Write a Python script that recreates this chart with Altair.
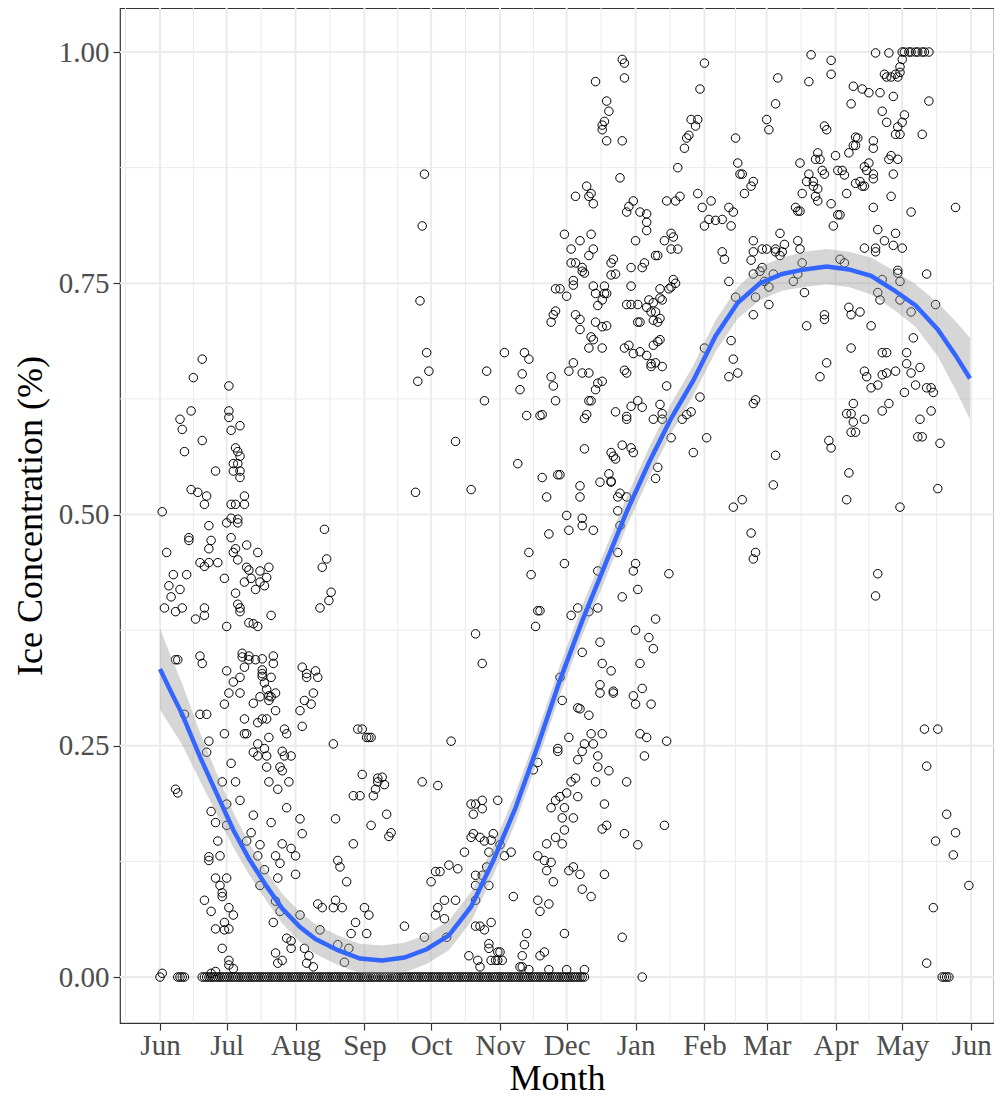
import json
import altair as alt
import pandas as pd

# ---- x axis: days since 1 June (month breaks) ----
MONTH_DAYS = [0, 30, 61, 92, 122, 153, 183, 214, 245, 273, 304, 334, 365]
MONTH_LABELS = ["Jun", "Jul", "Aug", "Sep", "Oct", "Nov", "Dec", "Jan", "Feb", "Mar", "Apr", "May", "Jun"]
MINOR_DAYS = [-15.5, 15, 45.5, 76.5, 107, 137.5, 168, 198.5, 229.5, 259, 288.5, 319, 349.5]
Y_MAJOR = [0.0, 0.25, 0.5, 0.75, 1.0]
Y_MINOR = [0.125, 0.375, 0.625, 0.875]

# ---- observations: [day, ice concentration] ----
SEG_JUN_JUL_HIGH = [
    [19, .668], [15, .648], [31, .639], [14, .612], [9, .603], [10, .592], [31, .612], [31, .605], [36, .596],
    [32, .591], [19, .580], [11, .568], [34, .572], [35, .568], [36, .563], [33, .555], [35, .555], [33, .547],
    [36, .547], [36, .540], [25, .547], [14, .527], [17, .524], [21, .520], [20, .511], [38, .520], [32, .511],
    [34, .511], [38, .511], [1, .503], [32, .496], [35, .495], [30, .491], [35, .491], [22, .488], [74, .484],
    [13, .475], [13, .472], [23, .472], [32, .475], [22, .463], [3, .459], [34, .463], [33, .459], [39, .467],
    [44, .459], [35, .451], [75, .452], [73, .443], [18, .448], [20, .444], [22, .448], [26, .448], [39, .443],
    [40, .440], [45, .439], [49, .443], [6, .435], [12, .435], [29, .431], [41, .431], [48, .432], [38, .427],
    [45, .427], [47, .423], [43, .419], [4, .423], [9, .419], [5, .411], [34, .415], [77, .416], [76, .407],
    [72, .399], [35, .403], [36, .399], [36, .395], [2, .399], [7, .395], [10, .399], [20, .399], [20, .391],
    [16, .387], [50, .391], [30, .379], [40, .383], [42, .382], [44, .379],
]
SEG_JUN_AUG_LOW = [
    [7, .343], [8, .343], [18, .347], [19, .339], [37, .350], [37, .346], [40, .347], [40, .343], [43, .343],
    [46, .344], [51, .347], [51, .339], [30, .331], [38, .335], [36, .324], [33, .319], [46, .332], [46, .328],
    [46, .325], [50, .324], [47, .318], [48, .311], [52, .307], [49, .304], [49, .299], [50, .303], [64, .335],
    [66, .324], [70, .331], [71, .324], [66, .328], [69, .307], [65, .299], [68, .295], [63, .288], [64, .271],
    [31, .307], [36, .307], [29, .295], [42, .296], [45, .303], [52, .288], [11, .284], [18, .284], [21, .284],
    [38, .279], [44, .275], [46, .279], [48, .279], [29, .263], [38, .263], [39, .263], [56, .268], [57, .263],
    [22, .255], [21, .243], [44, .252], [47, .247], [42, .243], [44, .239], [49, .259], [48, .239], [55, .244],
    [56, .239], [59, .239], [78, .252], [32, .231], [48, .227], [54, .227], [55, .223], [7, .203], [8, .199],
    [28, .211], [34, .211], [49, .211], [53, .203], [58, .211], [23, .179], [25, .167], [30, .187], [30, .164],
    [36, .191], [42, .175], [50, .167], [57, .183], [63, .171], [64, .155], [79, .171], [26, .147], [41, .156],
    [39, .147], [45, .143], [22, .130], [22, .126], [27, .131], [44, .131], [52, .131], [55, .144], [59, .139],
    [61, .131], [54, .123], [47, .116], [25, .107], [30, .107], [27, .099], [28, .091], [28, .087], [53, .107],
    [61, .111], [45, .099], [20, .083], [23, .071], [31, .075], [33, .067], [25, .052], [29, .059], [29, .051],
    [31, .052], [52, .082], [54, .071], [51, .059], [63, .067], [72, .051], [71, .079], [73, .075], [78, .075],
    [79, .083], [57, .042], [59, .039], [59, .031], [52, .026], [55, .018], [53, .015], [65, .031], [67, .023],
    [66, .015], [69, .011], [28, .031], [31, .018], [31, .013], [33, .009], [25, .006], [23, .004], [1, .004],
]
SEG_AUG_NOV = [
    [119, .868], [118, .812], [117, .731], [120, .675], [121, .655], [116, .644], [155, .675], [164, .675],
    [166, .668], [147, .655], [163, .652], [162, .635], [146, .623], [165, .607], [171, .607], [133, .579],
    [161, .555], [115, .524], [140, .527], [166, .459], [167, .435], [170, .396], [169, .379], [142, .371],
    [145, .339], [89, .268], [91, .268], [93, .259], [94, .259], [95, .259], [131, .255], [170, .232], [168, .224],
    [91, .219], [98, .215], [100, .216], [98, .211], [101, .208], [97, .203], [96, .196], [87, .196], [90, .196],
    [118, .211], [125, .207], [102, .176], [95, .164], [103, .152], [104, .156], [87, .144], [80, .126], [81, .119],
    [84, .103], [82, .075], [92, .075], [94, .067], [88, .059], [86, .047], [93, .047], [80, .035], [85, .031],
    [83, .016], [110, .055], [119, .043], [129, .043], [137, .135], [122, .103], [124, .114], [126, .114],
    [130, .121], [134, .117], [124, .067], [125, .075], [128, .083], [128, .063], [133, .083], [140, .187],
    [142, .187], [145, .191], [145, .182], [141, .176], [152, .191], [141, .155], [140, .151], [144, .151],
    [146, .147], [150, .155], [149, .148], [153, .143], [155, .131], [158, .135], [148, .135], [147, .119],
    [145, .110], [142, .110], [142, .099], [148, .099], [142, .083], [159, .087], [142, .055], [144, .055],
    [146, .051], [149, .059], [148, .036], [148, .031], [152, .027], [153, .027], [149, .018], [151, .018],
    [152, .018], [154, .018], [139, .023], [143, .018], [144, .011], [170, .083], [171, .071], [175, .079],
    [165, .047], [164, .035], [163, .023], [173, .027], [171, .023], [162, .011], [163, .011], [166, .008],
    [175, .008], [170, .131],
]
SEG_DEC_JAN_HIGH = [
    [208, .992], [209, .988], [209, .972], [196, .968], [245, .988], [243, .960], [201, .947], [202, .936],
    [200, .925], [199, .921], [199, .916], [201, .904], [208, .904], [239, .927], [242, .927], [241, .920],
    [238, .910], [237, .907], [236, .896], [233, .875], [207, .864], [192, .855], [194, .847], [193, .844],
    [195, .836], [187, .844], [213, .839], [211, .833], [210, .827], [216, .827], [219, .825], [219, .816],
    [219, .807], [228, .839], [232, .839], [234, .844], [242, .847], [244, .832], [248, .839], [247, .819],
    [245, .812], [250, .818], [182, .803], [189, .796], [185, .787], [194, .803], [195, .787], [193, .780],
    [214, .796], [227, .796], [230, .804], [231, .800], [230, .787], [233, .787], [223, .780], [224, .780],
    [185, .772], [187, .772], [190, .767], [190, .763], [191, .761], [203, .772], [204, .776], [203, .759],
    [205, .760], [212, .767], [218, .772], [217, .767], [186, .753], [186, .748], [178, .744], [180, .744],
    [183, .736], [195, .747], [196, .739], [200, .747], [200, .739], [201, .739], [199, .732], [197, .726],
    [212, .747], [225, .744], [229, .744], [231, .754], [232, .750], [230, .746], [210, .727], [212, .727],
    [215, .727], [220, .732], [222, .729], [225, .734], [226, .732], [219, .724], [221, .719], [223, .719],
    [222, .710], [224, .708], [225, .712], [216, .708], [215, .708], [178, .720], [177, .716], [176, .708],
    [187, .716], [189, .711], [189, .700], [196, .708], [199, .703], [201, .704], [194, .692], [195, .689],
    [193, .680], [199, .680], [209, .680], [211, .683], [213, .674], [216, .676], [219, .672], [222, .683],
    [224, .687], [225, .689], [221, .663], [223, .664], [226, .660], [221, .660], [245, .680], [186, .664],
    [184, .655], [190, .653], [193, .653], [176, .649], [209, .656], [210, .653],
]
SEG_DEC_JAN_MID = [
    [177, .639], [178, .623], [172, .608], [197, .642], [199, .644], [196, .635], [193, .623], [194, .623],
    [191, .604], [192, .608], [228, .639], [243, .627], [205, .611], [210, .606], [212, .617], [215, .623],
    [217, .616], [210, .603], [225, .619], [222, .603], [226, .609], [226, .603], [235, .603], [237, .608],
    [239, .611], [230, .583], [246, .583], [240, .567], [191, .571], [203, .567], [204, .563], [205, .560],
    [208, .575], [212, .572], [213, .567], [224, .551], [223, .539], [172, .540], [179, .543], [180, .543],
    [202, .544], [198, .535], [203, .536], [203, .535], [189, .531], [189, .519], [174, .519], [206, .519],
    [207, .523], [210, .519], [206, .504], [207, .488], [183, .499], [190, .496], [190, .488], [184, .483],
    [195, .483], [175, .479], [206, .459], [182, .447], [197, .439], [214, .447], [213, .439], [229, .436],
    [215, .419], [208, .411], [171, .396], [185, .391], [188, .399], [193, .395], [197, .399], [223, .387],
    [214, .375], [220, .367], [222, .355], [198, .362], [190, .351], [199, .339], [203, .331], [216, .339],
    [180, .324], [198, .316], [204, .309], [217, .312],
]
SEG_DEC_JAN_LOW = [
    [198, .307], [204, .307], [213, .304], [214, .295], [221, .295], [181, .299], [188, .291], [189, .290],
    [193, .283], [184, .259], [194, .263], [199, .263], [191, .252], [195, .252], [190, .244], [188, .235],
    [179, .247], [179, .244], [216, .263], [219, .259], [228, .255], [218, .239], [197, .239], [197, .227],
    [202, .223], [196, .211], [210, .211], [187, .215], [185, .211], [183, .199], [188, .195], [180, .195],
    [178, .191], [176, .183], [182, .183], [186, .172], [181, .172], [182, .159], [178, .151], [174, .144],
    [181, .144], [200, .187], [201, .164], [199, .160], [209, .155], [215, .143], [227, .164], [173, .126],
    [176, .124], [174, .115], [177, .103], [186, .119], [184, .115], [189, .111], [200, .111], [190, .095],
    [194, .087], [182, .047], [208, .043], [183, .008], [191, .008],
]
SEG_FEB_APR = [
    [293, .997], [302, .991], [302, .976], [292, .968], [278, .972], [277, .944], [273, .927], [274, .916],
    [312, .963], [311, .944], [259, .907], [299, .920], [300, .916], [260, .880], [262, .868], [261, .868],
    [267, .860], [266, .855], [263, .847], [288, .880], [292, .868], [291, .860], [294, .860], [294, .855],
    [296, .852], [295, .844], [296, .839], [289, .847], [296, .891], [295, .884], [297, .884], [298, .872],
    [299, .868], [304, .888], [305, .872], [307, .872], [308, .867], [309, .847], [302, .836], [305, .824],
    [306, .824], [303, .812], [310, .891], [312, .899], [313, .899], [313, .908], [313, .858], [253, .819],
    [256, .832], [258, .827], [257, .812], [286, .832], [287, .828], [288, .828], [279, .804], [267, .796],
    [267, .784], [266, .775], [271, .787], [273, .787], [277, .787], [277, .784], [279, .780], [281, .792],
    [280, .784], [287, .796], [288, .787], [253, .784], [254, .776], [271, .767], [270, .763], [267, .760],
    [272, .752], [274, .746], [276, .760], [289, .772], [287, .760], [285, .752], [306, .776], [308, .772],
    [256, .752], [259, .735], [268, .735], [267, .716], [274, .727], [290, .740], [291, .704], [299, .711],
    [299, .716], [310, .724], [311, .716], [315, .719], [257, .688], [258, .668], [260, .653], [256, .649],
    [300, .664], [297, .649], [311, .680],
    [267, .620], [268, .624], [277, .564], [276, .532], [301, .580], [302, .572], [312, .620], [309, .609],
    [311, .609], [312, .600], [311, .589], [313, .589], [310, .545], [309, .516], [258, .508], [262, .516],
    [266, .480], [268, .459], [267, .452],
]
SEG_MAY_JUN = [
    [322, .999], [328, .999], [334, 1.0], [335, 1.0], [337, 1.0], [338, 1.0], [340, 1.0], [341, 1.0],
    [343, 1.0], [344, 1.0], [346, 1.0], [334, .992], [333, .984], [333, .978], [332, .973], [329, .973],
    [327, .973], [326, .976], [331, .976], [316, .960], [319, .956], [324, .956], [330, .952], [346, .947],
    [325, .936], [327, .924], [335, .932], [334, .924], [332, .919], [331, .911], [333, .911], [343, .911],
    [314, .907], [321, .904], [321, .896], [329, .888], [328, .884], [332, .884], [330, .868], [329, .844],
    [317, .876], [319, .880], [318, .872], [321, .868], [321, .863], [315, .860], [316, .855], [317, .855],
    [321, .832], [338, .827], [358, .832], [323, .808], [331, .804], [326, .796], [330, .791], [334, .788],
    [317, .788], [322, .788], [322, .784], [332, .764], [332, .761], [333, .752], [345, .760], [325, .754],
    [323, .740], [324, .732], [333, .732], [338, .719], [349, .727], [320, .704], [339, .691], [336, .675],
    [325, .675], [327, .675], [336, .663], [342, .659], [331, .655], [327, .653], [325, .651], [317, .655],
    [318, .649], [338, .653],
    [320, .637], [323, .640], [335, .632], [340, .640], [345, .637], [347, .637], [348, .632], [317, .603],
    [325, .612], [328, .620], [342, .603], [347, .612], [341, .584], [343, .584], [351, .577], [350, .528],
    [333, .508], [323, .436], [322, .412], [344, .268], [350, .268], [345, .228], [354, .176], [358, .156],
    [349, .147], [357, .132], [364, .099], [348, .075], [345, .015],
]
ZERO_DAYS = [
    0, 8, 9, 10, 11,
    19, 20, 21, 22, 23, 24, 25, 26, 27, 28, 29, 30, 31, 32, 33, 34, 35, 36, 37, 38, 39, 40,
    41, 42, 43, 44, 45, 46, 47, 48, 49, 50, 51, 52, 53, 54, 55, 56, 57, 58, 59, 60, 61, 62,
    63, 64, 65, 66, 67, 68, 69, 70, 71, 72, 73, 74, 75, 76, 77, 78, 79, 80, 81, 82, 83, 84,
    85, 86, 87, 88, 89, 90, 91, 92, 93, 94, 95, 96, 97, 98, 99, 100, 101, 102, 103, 104, 105,
    106, 107, 108, 109, 110, 111, 112, 113, 114, 115, 116, 117, 118, 119, 120, 121, 122, 123,
    124, 125, 126, 127, 128, 129, 130, 131, 132, 133, 134, 135, 136, 137, 138, 139, 140, 141,
    142, 143, 144, 145, 146, 147, 148, 149, 150, 151, 152, 153, 154, 155, 156, 157, 158, 159,
    160, 161, 162, 163, 164, 165, 166, 167, 168, 169, 170, 171, 172, 173, 174, 175, 176, 177,
    178, 179, 180, 181, 182, 183, 184, 185, 186, 187, 188, 189, 190, 191,
    217, 352, 353, 354, 355,
]

# ---- loess smooth ----
SMOOTH_DAY = [0, 5, 10, 18, 25, 33, 40, 48, 55, 63, 70, 80, 90, 100, 110, 120, 130, 140, 150, 160, 170,
              180, 190, 200, 210, 220, 230, 240, 250, 260, 270, 280, 290, 300, 310, 320, 330, 340, 350, 358, 364.5]
SMOOTH_FIT = [.333, .308, .284, .238, .201, .159, .128, .098, .074, .054, .041, .029, .020, .018, .021, .030,
              .045, .076, .126, .183, .250, .321, .385, .444, .503, .556, .604, .645, .693, .729, .750, .760,
              .765, .768, .765, .758, .743, .726, .700, .672, .647]
SMOOTH_SE = [.044, .038, .033, .026, .022, .019, .017, .016, .016, .016, .016, .016, .016, .016, .016, .016,
             .016, .016, .016, .016, .016, .016, .016, .016, .016, .016, .016, .016, .017, .017, .018, .018,
             .019, .019, .019, .020, .021, .023, .029, .037, .044]

FONT = "Liberation Serif"
X_DOMAIN = [-18, 375.3]
Y_DOMAIN = [-0.0497, 1.0476]

rows = []
for seg in (SEG_JUN_JUL_HIGH, SEG_JUN_AUG_LOW, SEG_AUG_NOV, SEG_DEC_JAN_HIGH, SEG_DEC_JAN_MID,
            SEG_DEC_JAN_LOW, SEG_FEB_APR, SEG_MAY_JUN):
    for d, v in seg:
        rows.append({"day": d, "ice": v})
for d in ZERO_DAYS:
    rows.append({"day": d, "ice": 0.0})
pts = pd.DataFrame(rows)

smooth = pd.DataFrame({"day": SMOOTH_DAY, "fit": SMOOTH_FIT, "se": SMOOTH_SE})
smooth["lo"] = smooth["fit"] - smooth["se"]
smooth["hi"] = smooth["fit"] + smooth["se"]

xs = alt.Scale(domain=X_DOMAIN, nice=False, zero=False)
ys = alt.Scale(domain=Y_DOMAIN, nice=False, zero=False)

label_expr = "{}[indexof({}, datum.value)]".format(json.dumps(MONTH_LABELS), json.dumps(MONTH_DAYS))

x_axis = alt.Axis(values=MONTH_DAYS, labelExpr=label_expr, title="Month", grid=False, domain=False,
                  ticks=True, tickSize=7, tickColor="#333333", tickWidth=1.2,
                  labelFont=FONT, labelFontSize=29, labelColor="#4D4D4D", labelPadding=1,
                  labelFlush=False, labelOverlap=False,
                  titleFont=FONT, titleFontSize=36, titleColor="black", titleFontWeight="normal",
                  titlePadding=1)
y_axis = alt.Axis(values=Y_MAJOR, format=".2f", title="Ice Concentration (%)", grid=False, domain=False,
                  ticks=True, tickSize=7, tickColor="#333333", tickWidth=1.2,
                  labelFont=FONT, labelFontSize=29, labelColor="#4D4D4D", labelPadding=4,
                  labelFlush=False, labelOverlap=False,
                  titleFont=FONT, titleFontSize=36, titleColor="black", titleFontWeight="normal",
                  titlePadding=9)

minor_x = alt.Chart(pd.DataFrame({"day": MINOR_DAYS})).mark_rule(color="#EBEBEB", strokeWidth=1).encode(
    x=alt.X("day:Q", scale=xs, axis=x_axis))
major_x = alt.Chart(pd.DataFrame({"day": MONTH_DAYS})).mark_rule(color="#EBEBEB", strokeWidth=2).encode(
    x=alt.X("day:Q", scale=xs, axis=x_axis))
minor_y = alt.Chart(pd.DataFrame({"ice": Y_MINOR})).mark_rule(color="#EBEBEB", strokeWidth=1).encode(
    y=alt.Y("ice:Q", scale=ys, axis=y_axis))
major_y = alt.Chart(pd.DataFrame({"ice": Y_MAJOR})).mark_rule(color="#EBEBEB", strokeWidth=2).encode(
    y=alt.Y("ice:Q", scale=ys, axis=y_axis))

points = alt.Chart(pts).mark_point(shape="circle", filled=False, color="black", size=72,
                                   strokeWidth=1, opacity=1, clip=True).encode(
    x=alt.X("day:Q", scale=xs, axis=x_axis),
    y=alt.Y("ice:Q", scale=ys, axis=y_axis),
)

band = alt.Chart(smooth).mark_area(color="#999999", opacity=0.4, clip=True).encode(
    x=alt.X("day:Q", scale=xs, axis=x_axis),
    y=alt.Y("lo:Q", scale=ys, axis=y_axis),
    y2="hi:Q",
)
line = alt.Chart(smooth).mark_line(color="#3366FF", strokeWidth=4.5, clip=True).encode(
    x=alt.X("day:Q", scale=xs, axis=x_axis),
    y=alt.Y("fit:Q", scale=ys, axis=y_axis),
)

# 112 + 874 = 986 px wide, 1015 + 73 = 1088 px tall: fits the page inside its 8px margins
chart = alt.layer(minor_x, major_x, minor_y, major_y, points, band, line).properties(
    width=874, height=1015,
    padding={"left": 112, "top": 0, "right": 0, "bottom": 73},
    autosize=alt.AutoSizeParams(type="none"),
).configure_view(stroke="#333333", strokeWidth=1.2)

chart.save("out.html", embed_options={"renderer": "svg", "actions": False})
